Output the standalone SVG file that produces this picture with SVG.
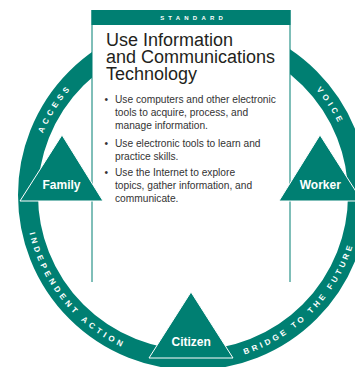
<svg xmlns="http://www.w3.org/2000/svg" width="355" height="367" viewBox="0 0 355 367">
  <defs>
    <style>
      .teal { fill: #007f72; }
      .ring { fill: none; stroke: #007f72; stroke-width: 20; }
      .arc-label { font-family: "Liberation Sans", Arial, sans-serif; font-weight: bold; font-size: 8px; letter-spacing: 3.6px; fill: #ffffff; }
      .arc-label.tight { letter-spacing: 3.2px; }
      .tri { fill: #007f72; stroke: #ffffff; stroke-width: 1; stroke-linejoin: miter; }
      .tri-label { font-family: "Liberation Sans", Arial, sans-serif; font-weight: bold; font-size: 12px; fill: #ffffff; text-anchor: middle; }
      .box-side { stroke: #007f72; stroke-width: 1; fill: none; }
      .header { font-family: "Liberation Sans", Arial, sans-serif; font-weight: bold; font-size: 6px; letter-spacing: 4.2px; fill: #ffffff; text-anchor: middle; }
      .title { font-family: "Liberation Sans", Arial, sans-serif; font-size: 18px; fill: #231f20; }
      .body { font-family: "Liberation Sans", Arial, sans-serif; font-size: 10.2px; fill: #333333; }
    </style>
    <!-- baselines for the ring captions; outer ones run clockwise, lower ones counter-clockwise -->
    <path id="arc-access" d="M30.9,189.34 A162.1,162.1 0 0 1 116.9,51.87"/>
    <path id="arc-voice" d="M266.6,50.57 A162.1,162.1 0 0 1 354.88,186.52"/>
    <path id="arc-independent" d="M25.1,195 A167.9,167.9 0 0 0 160.96,359.82"/>
    <path id="arc-bridge" d="M210.51,361.58 A167.5,167.5 0 0 0 359.86,209.6"/>
  </defs>

  <rect width="355" height="367" fill="#ffffff"/>

  <!-- the cycle linking the three roles -->
  <g id="connectors">
    <circle class="ring" cx="193" cy="195" r="165"/>
    <text class="arc-label"><textPath href="#arc-access" startOffset="50%" text-anchor="middle">ACCESS</textPath></text>
    <text class="arc-label"><textPath href="#arc-voice" startOffset="50%" text-anchor="middle">VOICE</textPath></text>
    <text class="arc-label"><textPath href="#arc-independent" startOffset="50%" text-anchor="middle">INDEPENDENT ACTION</textPath></text>
    <text class="arc-label tight"><textPath href="#arc-bridge" startOffset="50%" text-anchor="middle">BRIDGE TO THE FUTURE</textPath></text>
  </g>

  <!-- standard panel -->
  <g id="standard">
    <rect x="92" y="10" width="198" height="272" fill="#ffffff"/>
    <line class="box-side" x1="92" y1="10" x2="92" y2="282"/>
    <line class="box-side" x1="290" y1="10" x2="290" y2="282"/>
    <rect class="teal" x="91.5" y="10" width="199" height="15"/>
    <text class="header" x="193.6" y="20">STANDARD</text>
    <text class="title">
      <tspan x="106" y="46">Use Information</tspan>
      <tspan x="106" y="63">and Communications</tspan>
      <tspan x="106" y="80">Technology</tspan>
    </text>
    <text class="body">
      <tspan x="104.5" y="103">•</tspan><tspan x="115" y="103">Use computers and other electronic</tspan>
      <tspan x="115" y="116">tools to acquire, process, and</tspan>
      <tspan x="115" y="129">manage information.</tspan>
      <tspan x="104.5" y="146.5">•</tspan><tspan x="115" y="146.5">Use electronic tools to learn and</tspan>
      <tspan x="115" y="159.5">practice skills.</tspan>
      <tspan x="104.5" y="176">•</tspan><tspan x="115" y="176">Use the Internet to explore</tspan>
      <tspan x="115" y="189">topics, gather information, and</tspan>
      <tspan x="115" y="202">communicate.</tspan>
    </text>
  </g>

  <g id="family">
    <polygon class="tri" points="62,135 20,201 103,201"/>
    <text class="tri-label" x="61.5" y="188.5">Family</text>
  </g>

  <g id="worker">
    <polygon class="tri" points="320,135 279,201 362,201"/>
    <text class="tri-label" x="320.3" y="188.5">Worker</text>
  </g>

  <g id="citizen">
    <polygon class="tri" points="191,292 149,358 233,358"/>
    <text class="tri-label" x="191.2" y="346">Citizen</text>
  </g>
</svg>
